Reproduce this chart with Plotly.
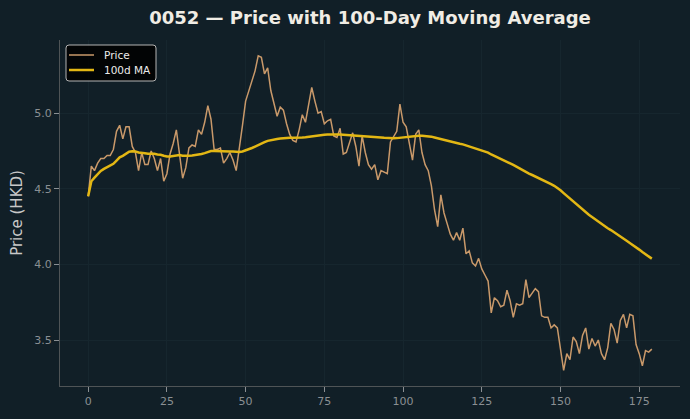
import plotly.graph_objects as go
import pandas as pd

days = list(range(180))
price = [
    4.45, 4.65, 4.62, 4.67, 4.70, 4.70, 4.72, 4.72, 4.76, 4.88,
    4.92, 4.83, 4.91, 4.91, 4.78, 4.74, 4.62, 4.74, 4.66, 4.66,
    4.75, 4.70, 4.62, 4.70, 4.55, 4.60, 4.73, 4.80, 4.89, 4.74,
    4.57, 4.64, 4.77, 4.79, 4.78, 4.89, 4.86, 4.94, 5.05, 4.96,
    4.76, 4.76, 4.77, 4.67, 4.70, 4.74, 4.69, 4.62, 4.76, 4.92,
    5.08, 5.15, 5.22, 5.28, 5.38, 5.37, 5.26, 5.30, 5.15, 5.06,
    4.98, 5.04, 5.02, 4.93, 4.86, 4.82, 4.81, 4.89, 4.99, 4.94,
    5.06, 5.17, 5.08, 5.00, 5.01, 4.93, 4.95, 4.96, 4.85, 4.84,
    4.90, 4.73, 4.74, 4.80, 4.87, 4.78, 4.65, 4.85, 4.74, 4.66,
    4.63, 4.66, 4.56, 4.62, 4.61, 4.60, 4.81, 4.85, 4.88, 5.06,
    4.94, 4.91, 4.80, 4.69, 4.86, 4.89, 4.74, 4.66, 4.62, 4.52,
    4.36, 4.25, 4.46, 4.34, 4.27, 4.20, 4.16, 4.21, 4.16, 4.24,
    4.07, 4.09, 4.01, 3.99, 4.04, 3.97, 3.93, 3.89, 3.68, 3.78,
    3.76, 3.72, 3.73, 3.83, 3.76, 3.65, 3.74, 3.73, 3.74, 3.90,
    3.78, 3.81, 3.84, 3.82, 3.66, 3.65, 3.65, 3.58, 3.60, 3.58,
    3.43, 3.30, 3.41, 3.37, 3.52, 3.49, 3.41, 3.53, 3.58, 3.44,
    3.51, 3.46, 3.50, 3.41, 3.37, 3.45, 3.61, 3.57, 3.48, 3.63,
    3.67, 3.58, 3.67, 3.66, 3.47, 3.41, 3.33, 3.43, 3.42, 3.44,
]
ma_window = 100
ma = pd.Series(price).rolling(ma_window, min_periods=1).mean().tolist()

series_names = ["Price", "100d MA"]
x_ticks = [0, 25, 50, 75, 100, 125, 150, 175]
y_ticks = [3.5, 4.0, 4.5, 5.0]

BG = "#111f27"
PRICE_C = "#c9996a"
MA_C = "#e3b714"

fig = go.Figure()
fig.add_trace(go.Scatter(x=days, y=price, mode="lines", name=series_names[0],
                         line=dict(color=PRICE_C, width=1.5)))
fig.add_trace(go.Scatter(x=days, y=ma, mode="lines", name=series_names[1],
                         line=dict(color=MA_C, width=2.5)))

pad_x = (max(days) - min(days)) * 0.05
ymin, ymax = min(price + ma), max(price + ma)
pad_y = (ymax - ymin) * 0.05

# custom legend (paper coords; plot area is 620 x 346 px)
PW, PH = 620.0, 346.0
x0, x1 = 6 / PW, 96 / PW
y0, y1 = 1 - 41 / PH, 1 - 5 / PH
rx, ry = 3 / PW, 3 / PH
path = (f"M {x0+rx},{y1} L {x1-rx},{y1} Q {x1},{y1} {x1},{y1-ry} "
        f"L {x1},{y0+ry} Q {x1},{y0} {x1-rx},{y0} L {x0+rx},{y0} "
        f"Q {x0},{y0} {x0},{y0+ry} L {x0},{y1-ry} Q {x0},{y1} {x0+rx},{y1} Z")
shapes = [dict(type="path", xref="paper", yref="paper", path=path,
               fillcolor="rgba(0,0,0,0.85)", line=dict(color="#b4b4b4", width=1))]
annotations = []
for k, (name, col, w) in enumerate([(series_names[0], PRICE_C, 1.5),
                                     (series_names[1], MA_C, 2.5)]):
    yc = 1 - (15 + 15 * k) / PH
    shapes.append(dict(type="line", xref="paper", yref="paper",
                       x0=9 / PW, x1=34 / PW, y0=yc, y1=yc,
                       line=dict(color=col, width=w)))
    annotations.append(dict(xref="paper", yref="paper", x=42 / PW, y=yc,
                            xanchor="left", yanchor="middle", text=name,
                            showarrow=False,
                            font=dict(family="DejaVu Sans", size=10.5, color="#ececec")))

fig.update_layout(
    width=690, height=419,
    paper_bgcolor=BG, plot_bgcolor=BG,
    margin=dict(l=60, r=10, t=40, b=33),
    font=dict(family="DejaVu Sans", color="#8a8f93", size=11),
    title=dict(text="<b>0052 — Price with 100-Day Moving Average</b>",
               xref="paper", x=0.5, xanchor="center", y=1 - 18 / 419, yanchor="middle",
               font=dict(family="DejaVu Sans", size=18, color="#f0ece4")),
    showlegend=False,
    shapes=shapes,
    annotations=annotations,
    xaxis=dict(range=[min(days) - pad_x, max(days) + pad_x],
               tickvals=x_ticks, showgrid=True, gridcolor="#16262e", gridwidth=1,
               zeroline=False, showline=True, linecolor="#4f5456", linewidth=1,
               ticks="outside", ticklen=5, tickcolor="#8a8f93",
               tickfont=dict(color="#8a8f93", size=11)),
    yaxis=dict(range=[ymin - pad_y, ymax + pad_y],
               tickvals=y_ticks, tickformat=".1f", showgrid=True,
               gridcolor="#16262e", gridwidth=1, zeroline=False,
               showline=True, linecolor="#4f5456", linewidth=1,
               ticks="outside", ticklen=5, tickcolor="#8a8f93",
               tickfont=dict(color="#8a8f93", size=11),
               title=dict(text="Price (HKD)", font=dict(color="#c8c8c8", size=15),
                          standoff=8)),
)
fig.write_html("out.html")
